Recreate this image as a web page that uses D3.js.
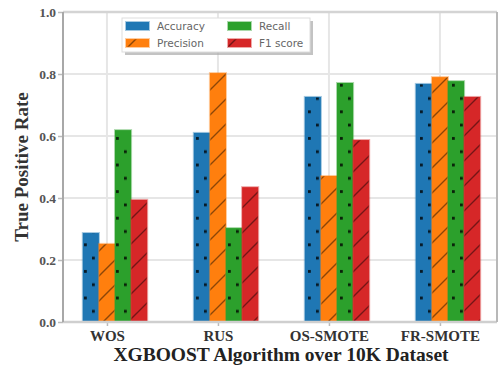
<!DOCTYPE html>
<html>
<head>
<meta charset="utf-8">
<script src="https://cdn.jsdelivr.net/npm/d3@7"></script>
<style>
  html, body { margin: 0; padding: 0; background: #fff; }
  svg { display: block; }
</style>
</head>
<body>
<svg id="chart" width="499" height="365"></svg>
<script>
// Sampling methods compared on the 10K dataset
const categories = ["WOS", "RUS", "OS-SMOTE", "FR-SMOTE"];
const seriesNames = ["Accuracy", "Precision", "Recall", "F1 score"];
const accuracy  = [0.287, 0.610, 0.726, 0.768];
const precision = [0.252, 0.803, 0.471, 0.790];
const recall    = [0.619, 0.303, 0.771, 0.777];
const f1score   = [0.394, 0.435, 0.587, 0.726];
const yTicks = [0.0, 0.2, 0.4, 0.6, 0.8, 1.0];

const seriesValues = [accuracy, precision, recall, f1score];
const colors = ["#1f77b4", "#ff7f0e", "#2ca02c", "#d62728"];
const hatchKinds = ["dots", "slash", "dots", "slash"];

const svg = d3.select("#chart");
const W = 499, H = 365;
const margin = {top: 12, right: 2, bottom: 43, left: 63};
const plotW = W - margin.left - margin.right;
const plotH = H - margin.top - margin.bottom;

const x = d3.scaleLinear().domain([-0.396, 3.514]).range([margin.left, margin.left + plotW]);
const y = d3.scaleLinear().domain([0, 1]).range([margin.top + plotH, margin.top]);
const barW = 0.145;

// hatch patterns
const defs = svg.append("defs");
function makePattern(id, color, kind) {
  if (kind === "dots") {
    const p = defs.append("pattern").attr("id", id).attr("patternUnits", "userSpaceOnUse")
      .attr("width", 16).attr("height", 26.6);
    p.append("rect").attr("width", 16).attr("height", 26.6).attr("fill", color);
    p.append("rect").attr("x", 4).attr("y", 4).attr("width", 2.8).attr("height", 2.8).attr("fill", "rgba(0,0,0,0.8)");
    p.append("rect").attr("x", 12).attr("y", 17.3).attr("width", 2.8).attr("height", 2.8).attr("fill", "rgba(0,0,0,0.8)");
  } else {
    const s = 25;
    const p = defs.append("pattern").attr("id", id).attr("patternUnits", "userSpaceOnUse")
      .attr("width", s).attr("height", s);
    p.append("rect").attr("width", s).attr("height", s).attr("fill", color);
    p.append("path").attr("d", `M0,${s} L${s},0 M${-s/2},${s/2} L${s/2},${-s/2} M${s/2},${s*1.5} L${s*1.5},${s/2}`)
      .attr("stroke", "rgba(0,0,0,0.45)").attr("stroke-width", 1.4);
  }
}
colors.forEach((c, i) => makePattern("hatch" + i, c, hatchKinds[i]));

// grid
const grid = svg.append("g");
grid.selectAll("line.h").data(yTicks.slice(1)).join("line")
  .attr("x1", margin.left).attr("x2", margin.left + plotW)
  .attr("y1", d => y(d)).attr("y2", d => y(d))
  .attr("stroke", "#e6e6e6").attr("stroke-width", 2);
grid.selectAll("line.v").data(categories).join("line")
  .attr("x1", (d, i) => x(i)).attr("x2", (d, i) => x(i))
  .attr("y1", margin.top).attr("y2", margin.top + plotH)
  .attr("stroke", "#e6e6e6").attr("stroke-width", 2);

// bars
seriesValues.forEach((vals, s) => {
  svg.append("g").selectAll("rect").data(vals).join("rect")
    .attr("x", (d, i) => x(i + (s - 1) * barW - barW / 2))
    .attr("y", d => y(d))
    .attr("width", x(barW) - x(0))
    .attr("height", d => y(0) - y(d))
    .attr("fill", `url(#hatch${s})`)
    .attr("stroke", colors[s]).attr("stroke-opacity", 0.4).attr("stroke-width", 2);
});

// axes
const xAxis = d3.axisBottom(x).tickValues([0, 1, 2, 3])
  .tickFormat((d) => categories[d]).tickSize(4).tickPadding(4);
const gx = svg.append("g").attr("transform", `translate(0,${margin.top + plotH})`).call(xAxis);
gx.select(".domain").remove();
gx.selectAll(".tick line").attr("stroke", "#bbb").attr("stroke-width", 1.5);
gx.selectAll("text").attr("font-family", "'Liberation Serif', serif").attr("font-weight", "bold")
  .attr("font-size", 15).attr("fill", "#333");

const yAxis = d3.axisLeft(y).tickValues(yTicks).tickFormat(d3.format(".1f")).tickSize(5).tickPadding(2);
const gy = svg.append("g").attr("transform", `translate(${margin.left},0)`).call(yAxis);
gy.select(".domain").remove();
gy.selectAll(".tick line").attr("stroke", "#bbb").attr("stroke-width", 1.5);
gy.selectAll("text").attr("font-family", "'Liberation Serif', serif").attr("font-weight", "bold")
  .attr("font-size", 13.5).attr("fill", "#555");

// spines
const sp = svg.append("g").attr("fill", "none");
sp.append("line").attr("x1", margin.left).attr("x2", margin.left + plotW)
  .attr("y1", margin.top + plotH).attr("y2", margin.top + plotH).attr("stroke", "#cfcfcf").attr("stroke-width", 2.5);
sp.append("line").attr("x1", margin.left).attr("x2", margin.left + plotW)
  .attr("y1", margin.top).attr("y2", margin.top).attr("stroke", "#d4d4d4").attr("stroke-width", 2.5);
sp.append("line").attr("x1", margin.left).attr("x2", margin.left)
  .attr("y1", margin.top).attr("y2", margin.top + plotH).attr("stroke", "#a8a8a8").attr("stroke-width", 2);
sp.append("line").attr("x1", margin.left + plotW).attr("x2", margin.left + plotW)
  .attr("y1", margin.top).attr("y2", margin.top + plotH).attr("stroke", "#b8b8b8").attr("stroke-width", 2);

// axis titles
svg.append("text").attr("x", 281).attr("y", 361).attr("text-anchor", "middle")
  .attr("font-family", "'Liberation Serif', serif").attr("font-weight", "bold").attr("font-size", 19.5)
  .attr("fill", "#222").text("XGBOOST Algorithm over 10K Dataset");
svg.append("text").attr("transform", "translate(28,167) rotate(-90)").attr("text-anchor", "middle")
  .attr("font-family", "'Liberation Serif', serif").attr("font-weight", "bold").attr("font-size", 19)
  .attr("fill", "#333").text("True Positive Rate");

// legend
const lg = svg.append("g");
lg.append("rect").attr("x", 125).attr("y", 21).attr("width", 188).attr("height", 34)
  .attr("fill", "#aaa").attr("opacity", 0.7);
lg.append("rect").attr("x", 122).attr("y", 18).attr("width", 188).attr("height", 34)
  .attr("fill", "#fff").attr("stroke", "#ddd").attr("stroke-width", 1);
const legendPos = [[126, 26], [126, 43], [228, 26], [228, 43]];
seriesNames.forEach((name, i) => {
  const [lx, ly] = legendPos[i];
  lg.append("rect").attr("x", lx).attr("y", ly - 4).attr("width", 23).attr("height", 8)
    .attr("fill", `url(#hatch${i})`).attr("stroke", colors[i]).attr("stroke-opacity", 0.4).attr("stroke-width", 2);
  lg.append("text").attr("x", lx + 31).attr("y", ly + 3.8)
    .attr("font-family", "'DejaVu Sans', sans-serif").attr("font-size", 10.5).attr("fill", "#666").text(name);
});
</script>
</body>
</html>
